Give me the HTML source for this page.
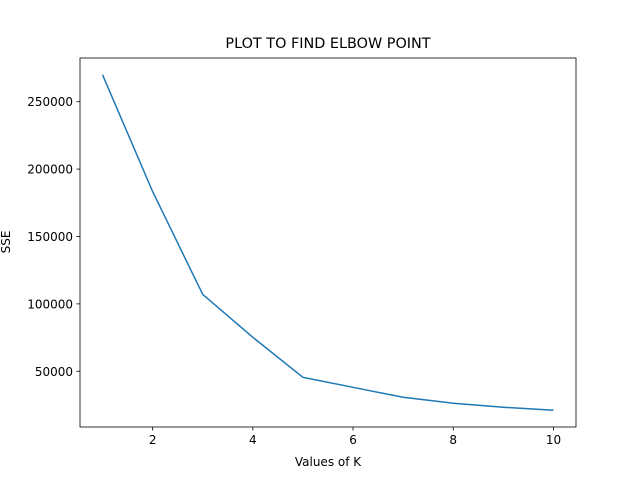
<!DOCTYPE html>
<html><head><meta charset="utf-8"><style>
body{margin:0;background:#fff}
svg{display:block;font-family:"DejaVu Sans","Liberation Sans",sans-serif}
</style></head><body>
<svg width="640" height="480" id="chart">
<rect width="640" height="480" fill="#fff"/>
<text x="328" y="48" text-anchor="middle" font-size="14.4">PLOT TO FIND ELBOW POINT</text>
<text x="328" y="466" text-anchor="middle" font-size="12">Values of K</text>
<text transform="translate(10,242) rotate(-90)" text-anchor="middle" font-size="12">SSE</text>
<g id="ticks"></g>
<path id="line" fill="none" stroke="#1f77b4" stroke-width="1.5"/>
<rect x="80" y="58" width="496" height="369" fill="none" stroke="#000" stroke-width="0.8"/>
</svg>
<script>
const kValues=[1,2,3,4,5,6,7,8,9,10];
const sseValues=[270000,183300,107000,75200,45500,38100,30700,26300,23300,21100];
const xTicks=[2,4,6,8,10];
const yTicks=[50000,100000,150000,200000,250000];
const L=80,R=576,T=58,B=427;
const xmin=Math.min(...kValues),xmax=Math.max(...kValues),xp=(xmax-xmin)*0.05;
const ymin=Math.min(...sseValues),ymax=Math.max(...sseValues),yp=(ymax-ymin)*0.05;
const xs=v=>L+(v-(xmin-xp))/((xmax+xp)-(xmin-xp))*(R-L);
const ys=v=>B-(v-(ymin-yp))/((ymax+yp)-(ymin-yp))*(B-T);
const ns="http://www.w3.org/2000/svg";
const g=document.getElementById('ticks');
function mk(t,a){const e=document.createElementNS(ns,t);for(const k in a)e.setAttribute(k,a[k]);return e;}
xTicks.forEach(v=>{
const x=xs(v);
const l=mk('line',{x1:x,x2:x,y1:B,y2:B+3.5,stroke:'#000','stroke-width':0.8});


g.appendChild(l);
const t=mk('text',{x:x,y:B+17,'text-anchor':'middle','font-size':12});


t.textContent=v;g.appendChild(t);
});
yTicks.forEach(v=>{
const y=ys(v);
const l=mk('line',{x1:L-3.5,x2:L,y1:y,y2:y,stroke:'#000','stroke-width':0.8});


g.appendChild(l);
const t=mk('text',{x:L-7,y:y+4.5,'text-anchor':'end','font-size':12});


t.textContent=v;g.appendChild(t);
});
document.getElementById('line').setAttribute('d',kValues.map((k,i)=>(i?'L':'M')+xs(k)+','+ys(sseValues[i])).join(' '));
</script>
</body></html>
